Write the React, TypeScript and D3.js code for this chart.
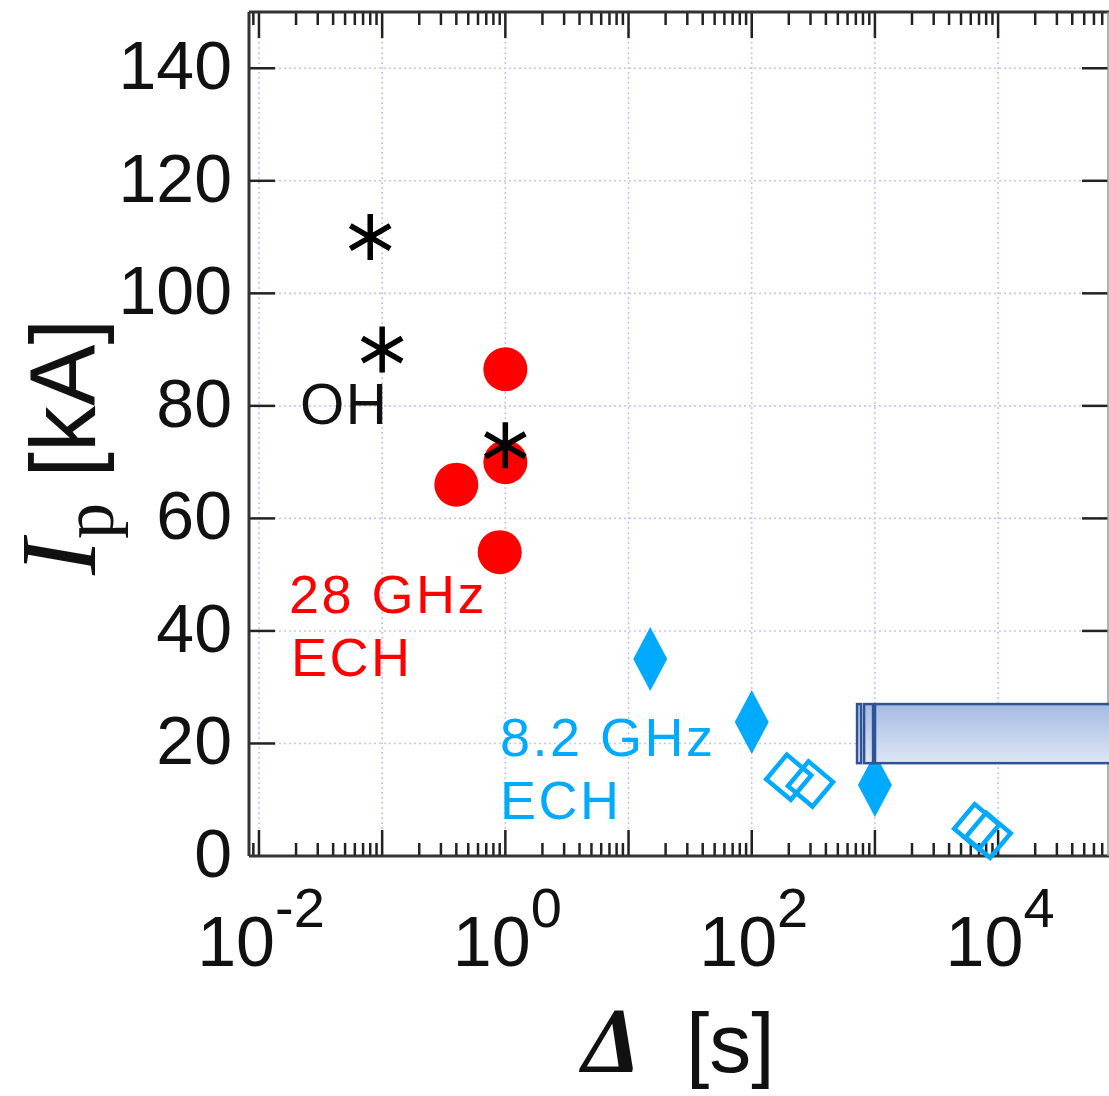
import * as d3 from 'd3';

// OH (ohmic) discharges – asterisks
const ohDelta = [0.08, 0.1, 1.0];
const ohIp = [110, 90, 73];

// 28 GHz ECH – red filled circles
const ech28Delta = [1.0, 0.4, 1.0, 0.9];
const ech28Ip = [86.5, 66, 70, 54];

// 8.2 GHz ECH – filled diamonds
const ech82FilledDelta = [15, 100, 1000];
const ech82FilledIp = [35, 23.8, 12.6];

// 8.2 GHz ECH – open diamonds
const ech82OpenDelta = [200, 300, 6700, 8300];
const ech82OpenIp = [14, 12.8, 5.2, 3.7];

const yTicks = [0, 20, 40, 60, 80, 100, 120, 140];
const xDecades = [-2, -1, 0, 1, 2, 3, 4];
const xLabelExps = [-2, 0, 2, 4];

// overlay bar on the right (data units)
const barStarts = [716, 817, 1002];
const barEnds = [773, 966, 100000];
const barIp = [16.5, 27];

const W = 1109;
const H = 1096;
const RED = '#ff0000';
const BLUE = '#00aaff';
const SANS = '"Liberation Sans", Arial, Helvetica, sans-serif';
const SERIF = '"Liberation Serif", "Times New Roman", serif';

export default function App() {
  const x = d3.scaleLog().domain([0.0083, 78000]).range([249, 1108]);
  const y = d3.scaleLinear().domain([0, 150]).range([856, 12]);
  const [x0, x1] = x.range();
  const [yb, yt] = y.range();

  const allTicks = x.ticks();
  const isMajor = (v: number) => Math.abs(Math.log10(v) - Math.round(Math.log10(v))) < 1e-6;

  // six-armed asterisk
  const star = (cx: number, cy: number, r: number) => {
    const segs = [90, 30, -30].map(a => {
      const rad = (a * Math.PI) / 180;
      const dx = Math.cos(rad) * r, dy = Math.sin(rad) * r;
      return `M${cx - dx},${cy + dy}L${cx + dx},${cy - dy}`;
    });
    return segs.join('');
  };

  return (
    <svg width={W} height={H} style={{ position: 'absolute', left: 0, top: 0, background: '#fff' }}>
      <defs>
        <linearGradient id="barGrad" x1="0" y1="0" x2="0" y2="1">
          <stop offset="0%" stopColor="#a6bbe2" />
          <stop offset="100%" stopColor="#dde6f5" />
        </linearGradient>
      </defs>

      {/* grid */}
      <g stroke="#c4c4ff" strokeWidth={1.6} strokeDasharray="2,3">
        {xDecades.map(e => (
          <line key={'gx' + e} x1={x(10 ** e)} x2={x(10 ** e)} y1={yt} y2={yb} />
        ))}
        {yTicks.filter(t => t > 0).map(t => (
          <line key={'gy' + t} x1={x0} x2={x1} y1={y(t)} y2={y(t)} />
        ))}
      </g>

      {/* ticks */}
      <g stroke="#222" strokeWidth={2.5}>
        {allTicks.map((t, i) => {
          const len = isMajor(t) ? 26 : 13;
          const px = x(t);
          return (
            <g key={'xt' + i}>
              <line x1={px} x2={px} y1={yb} y2={yb - len} />
              <line x1={px} x2={px} y1={yt} y2={yt + len} />
            </g>
          );
        })}
        {yTicks.filter(t => t > 0).map(t => (
          <g key={'yt' + t}>
            <line x1={x0} x2={x0 + 26} y1={y(t)} y2={y(t)} />
            <line x1={x1 - 26} x2={x1} y1={y(t)} y2={y(t)} />
          </g>
        ))}
      </g>

      {/* frame */}
      <line x1={x0} x2={x0} y1={yt} y2={yb} stroke="#333" strokeWidth={3} />
      <line x1={x0} x2={W} y1={yb} y2={yb} stroke="#333" strokeWidth={3} />
      <line x1={x0} x2={W} y1={yt} y2={yt} stroke="#333" strokeWidth={3} />
      <line x1={x1} x2={x1} y1={yt} y2={yb} stroke="#999" strokeWidth={1.5} />

      {/* y tick labels */}
      <g fontFamily={SANS} fontSize={68} fill="#111" textAnchor="end">
        {yTicks.map(t => (
          <text key={'yl' + t} x={232} y={y(t) + 21}>{t}</text>
        ))}
      </g>

      {/* x tick labels */}
      <g fontFamily={SANS} fill="#111" textAnchor="middle">
        {xLabelExps.map(e => (
          <text key={'xl' + e} x={x(10 ** e) + 2} y={966}>
            <tspan fontSize={70}>10</tspan>
            <tspan fontSize={56} dy={-39}>{e < 0 ? '-' + Math.abs(e) : e}</tspan>
          </text>
        ))}
      </g>

      {/* axis titles */}
      <text x={582} y={1072} fill="#111">
        <tspan fontFamily={SERIF} fontStyle="italic" fontWeight="bold" fontSize={94}>Δ</tspan>
        <tspan x={686} fontFamily={SANS} fontSize={84}>[s]</tspan>
      </text>
      <text transform="translate(95,575) rotate(-90)" fill="#111">
        <tspan fontFamily={SERIF} fontStyle="italic" fontSize={108}>I</tspan>
        <tspan fontFamily={SERIF} fontSize={72} dy={18}>p</tspan>
        <tspan fontFamily={SANS} fontSize={92} dy={-18}> [kA]</tspan>
      </text>

      {/* series labels */}
      <g fontFamily={SANS} fontSize={54} letterSpacing={2.5}>
        <text x={300} y={424} fill="#111" fontSize={57} letterSpacing={1.5}>OH</text>
        <text fill={RED}>
          <tspan x={289} y={613}>28 GHz</tspan>
          <tspan x={291} y={676}>ECH</tspan>
        </text>
        <text fill={BLUE}>
          <tspan x={500} y={756}>8.2 GHz</tspan>
          <tspan x={500} y={819}>ECH</tspan>
        </text>
      </g>

      {/* 28 GHz ECH */}
      {ech28Delta.map((d, i) => (
        <circle key={'r' + i} cx={x(d)} cy={y(ech28Ip[i])} r={22} fill={RED} />
      ))}

      {/* OH */}
      {ohDelta.map((d, i) => (
        <path key={'oh' + i} d={star(x(d), y(ohIp[i]), 23)} stroke="#000" strokeWidth={5.5} fill="none" />
      ))}

      {/* 8.2 GHz ECH filled */}
      {ech82FilledDelta.map((d, i) => {
        const cx = x(d), cy = y(ech82FilledIp[i]);
        return (
          <path key={'fd' + i} d={`M${cx},${cy - 32}L${cx + 17},${cy}L${cx},${cy + 32}L${cx - 17},${cy}Z`} fill={BLUE} />
        );
      })}

      {/* 8.2 GHz ECH open */}
      {ech82OpenDelta.map((d, i) => {
        const cx = x(d), cy = y(ech82OpenIp[i]);
        return (
          <rect key={'od' + i} x={cx - 16} y={cy - 16} width={32} height={32} fill="none" stroke={BLUE} strokeWidth={4.5}
            transform={`rotate(40,${cx},${cy})`} />
        );
      })}

      {/* overlay bar */}
      {barStarts.map((s, i) => (
        <rect key={'bar' + i} x={x(s)} y={y(barIp[1])} width={Math.max(0, Math.min(W + 5, x(barEnds[i])) - x(s))}
          height={y(barIp[0]) - y(barIp[1])} fill="url(#barGrad)" stroke="#2f5496" strokeWidth={2.5} />
      ))}
    </svg>
  );
}
